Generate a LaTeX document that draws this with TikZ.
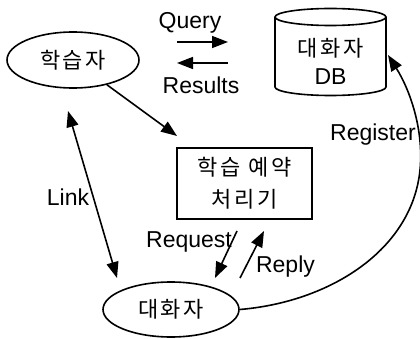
\documentclass[tikz,border=0pt]{standalone}
\usepackage{fontspec}
\setmainfont{Liberation Sans}
\newfontfamily\kr[LetterSpace=12]{Noto Sans CJK KR}
\usetikzlibrary{arrows.meta,shapes.geometric}
\begin{document}
\begin{tikzpicture}[x=1pt,y=-1pt, line width=1.6pt,
  arr/.style={-{Triangle[length=16pt,width=12pt]}},
  darr/.style={{Triangle[length=16pt,width=12pt]}-{Triangle[length=16pt,width=12pt]}},
  ell/.style={draw,ellipse,inner sep=0pt},
  lbl/.style={font=\fontsize{23}{26}\selectfont, inner sep=0pt},
  kt/.style={font=\kr\fontsize{22}{32}\selectfont, inner sep=0pt, align=center}]
\useasboundingbox (0,0) rectangle (420,339);
% nodes
\node[ell, kt, minimum width=132pt, minimum height=56pt] (learner) at (73,60) {학습자};
\node[ell, kt, minimum width=136pt, minimum height=55pt] (talker) at (171,309.5) {대화자};
\node[draw, kt, minimum width=135pt, minimum height=71pt] (proc) at (244.5,183.5) {학습 예약\\처리기};
% database cylinder
\draw (275,17) -- (275,87) arc[start angle=180,end angle=0,x radius=55.5,y radius=8.5] -- (386,17);
\draw (330.5,17) ellipse[x radius=55.5,y radius=8.5];
\node[kt, font=\kr\fontsize{22}{28}\selectfont, minimum width=111pt, minimum height=70pt] (db) at (330.5,61) {대화자\\{\rmfamily\fontsize{23}{28}\selectfont DB}};
% labels
\node[lbl] (query) at (190,23) {Query};
\node[lbl] (results) at (201,85) {Results};
\node[lbl] (link) at (68,197) {Link};
\node[lbl] (register) at (373,135) {Register};
\node[lbl] (request) at (189,242) {Request};
\node[lbl] (reply) at (285.5,267) {Reply};
% coordinates
\coordinate (q1) at (177,42);
\coordinate (q2) at (228,42);
\coordinate (r1) at (228,63);
\coordinate (r2) at (177,63);
\coordinate (lp) at (177,136);
\coordinate (lk1) at (68,111);
\coordinate (lk2) at (117,278);
\coordinate (rq1) at (237,231);
\coordinate (rq2) at (215,278);
\coordinate (rp1) at (240,278);
\coordinate (rp2) at (264,231);
\coordinate (rg) at (420,170);
\coordinate (dbr) at (388,55);
% connectors
\draw[arr] (q1) -- (q2);
\draw[arr] (r1) -- (r2);
\draw[arr] (learner) -- (lp);
\draw[darr] (lk1) -- (lk2);
\draw[arr] (rq1) -- (rq2);
\draw[arr] (rp1) -- (rp2);
\draw[arr] (talker.east) .. controls (330,302) and (412,250) .. (rg) .. controls (424,130) and (410,90) .. (dbr);
\end{tikzpicture}
\end{document}
